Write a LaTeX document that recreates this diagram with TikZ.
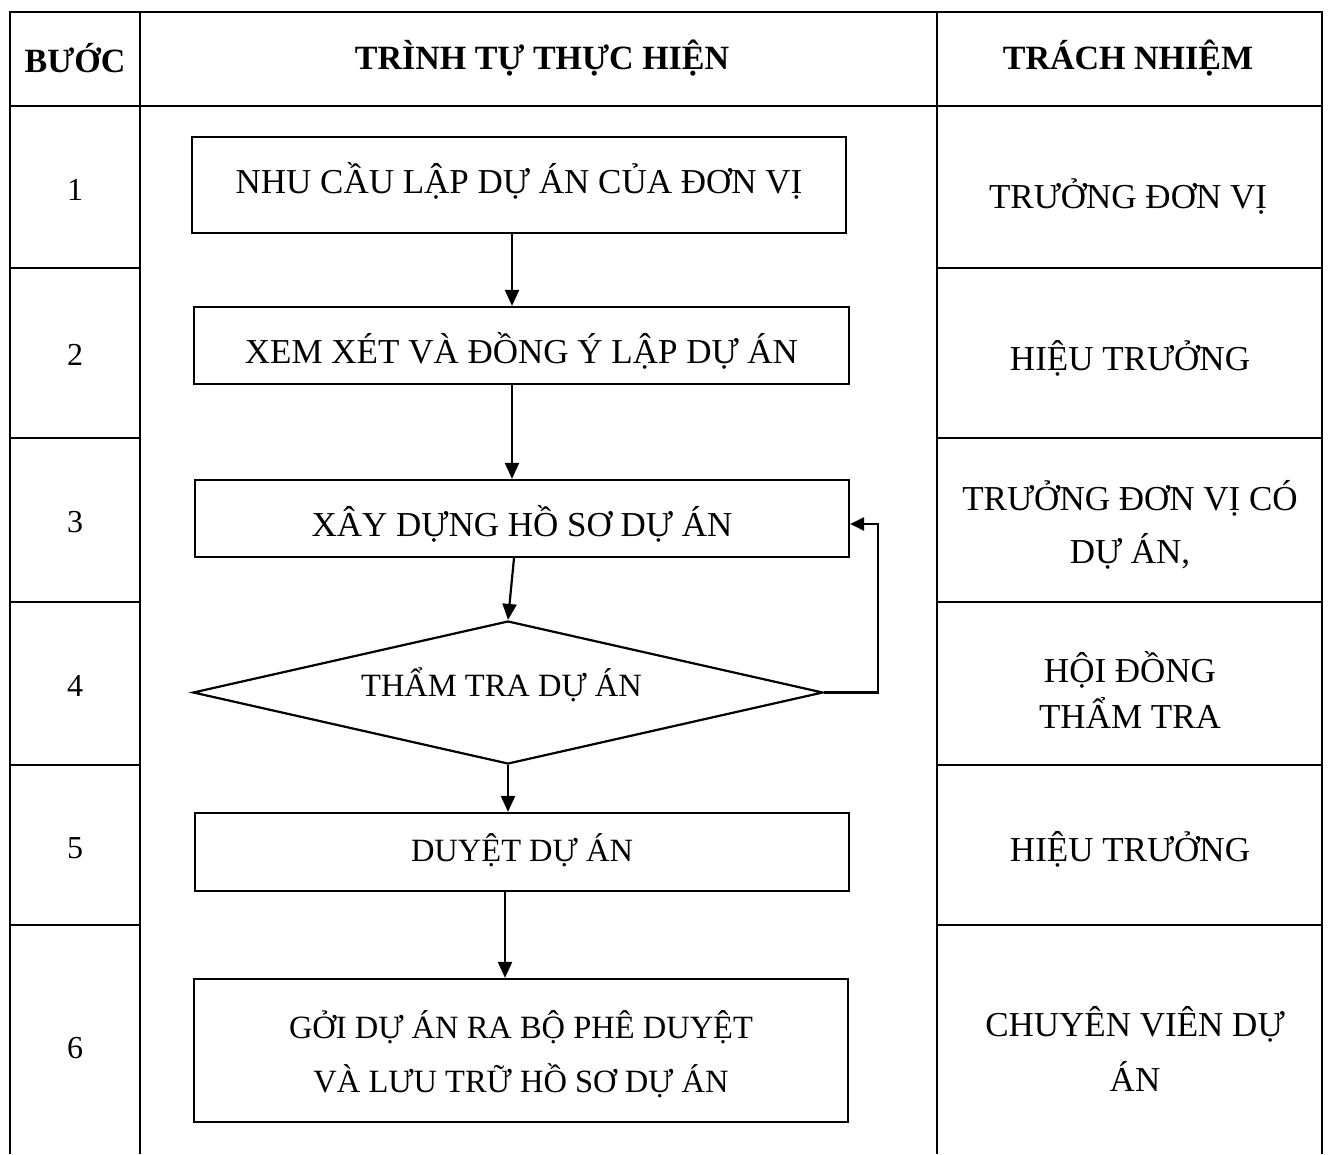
\documentclass[tikz,border=0pt]{standalone}
\usepackage{fontspec}
\setmainfont{Liberation Serif}
\usetikzlibrary{arrows.meta,shapes.geometric}
\begin{document}
\begin{tikzpicture}[x=1pt,y=-1pt,
  grid/.style={line width=2.8pt},
  stepbox/.style={draw,line width=2.2pt,minimum width=654pt,inner sep=0pt,align=center,text depth=0pt},
  arr/.style={line width=2.2pt,-{Triangle[length=16pt,width=14pt]}},
  big/.style={font=\fontsize{35}{50}\selectfont,align=center},
  mid/.style={font=\fontsize{32.5}{54}\selectfont,align=center},
  num/.style={font=\fontsize{32}{38}\selectfont},
  head/.style={font=\fontsize{34}{40}\selectfont\bfseries}]
\useasboundingbox (0,0) rectangle (1330,1154);
% table grid
\draw[grid] (10,1154) -- (10,12) -- (1322,12) -- (1322,1154);
\draw[grid] (140,12) -- (140,1154);
\draw[grid] (937,12) -- (937,1154);
\draw[grid] (10,106) -- (1322,106);
\foreach \yy in {268,438,602,765,925}{
  \draw[grid] (10,\yy) -- (140,\yy);
  \draw[grid] (937,\yy) -- (1322,\yy);
}
% headers
\node[head] (h1) at (75,58) {BƯỚC};
\node[head] (h2) at (542,58) {TRÌNH TỰ THỰC HIỆN};
\node[head] (h3) at (1128,58) {TRÁCH NHIỆM};
% step numbers
\node[num] (n1) at (75,190) {1};
\node[num] (n2) at (75,355) {2};
\node[num] (n3) at (75,522) {3};
\node[num] (n4) at (75,686) {4};
\node[num] (n5) at (75,848) {5};
\node[num] (n6) at (75,1048) {6};
% responsibilities
\node[big] (r1) at (1128,196) {TRƯỞNG ĐƠN VỊ};
\node[big] (r2) at (1130,358) {HIỆU TRƯỞNG};
\node[big,font=\fontsize{35}{53}\selectfont] (r3) at (1130,525) {TRƯỞNG ĐƠN VỊ CÓ\\DỰ ÁN,};
\node[big,font=\fontsize{35}{46}\selectfont] (r4) at (1130,690) {HỘI ĐỒNG\\THẨM TRA};
\node[big] (r5) at (1130,849) {HIỆU TRƯỞNG};
\node[big,font=\fontsize{35}{55}\selectfont] (r6) at (1135,1049) {CHUYÊN VIÊN DỰ\\ÁN};
% flow boxes
\node[stepbox,big,minimum height=96pt,text height=16pt] (b1) at (519,185) {NHU CẦU LẬP DỰ ÁN CỦA ĐƠN VỊ};
\node[stepbox,big,minimum width=655pt,minimum height=77pt,text height=36pt] (b2) at (521.5,345.5) {XEM XÉT VÀ ĐỒNG Ý LẬP DỰ ÁN};
\node[stepbox,big,minimum height=77pt,text height=35pt] (b3) at (522,518.5) {XÂY DỰNG HỒ SƠ DỰ ÁN};
\node[diamond,aspect=4.4,draw,line width=2.2pt,minimum width=630pt,minimum height=143pt,inner sep=0pt,mid,text height=7pt,text depth=0pt] (d) at (508,692.5) {THẨM TRA DỰ ÁN\kern13pt};
\node[stepbox,mid,minimum height=78pt,text height=18pt] (b5) at (522,852) {DUYỆT DỰ ÁN};
\node[draw,line width=2.2pt,minimum width=654pt,inner sep=0pt,align=center,mid,minimum height=143pt] (b6) at (521,1050.5) {\rule{0pt}{36pt}GỞI DỰ ÁN RA BỘ PHÊ DUYỆT\\VÀ LƯU TRỮ HỒ SƠ DỰ ÁN};
% connectors
\draw[arr] ([xshift=-7pt]b1.south) -- ([xshift=-7pt]b1.south |- b2.north);
\draw[arr] ([xshift=-9.5pt]b2.south) -- ([xshift=-9.5pt]b2.south |- b3.north);
\draw[arr] ([xshift=-8pt]b3.south) -- (d.north);
\draw[arr] (d.south) -- (d.south |- b5.north);
\draw[arr] ([xshift=-17pt]b5.south) -- ([xshift=-17pt]b5.south |- b6.north);
\draw[line width=2.2pt,-{Triangle[length=14pt,width=13pt]}] (d.east) -- ++(54,0) |- ([yshift=-5.5pt]b3.east);
\end{tikzpicture}
\end{document}
